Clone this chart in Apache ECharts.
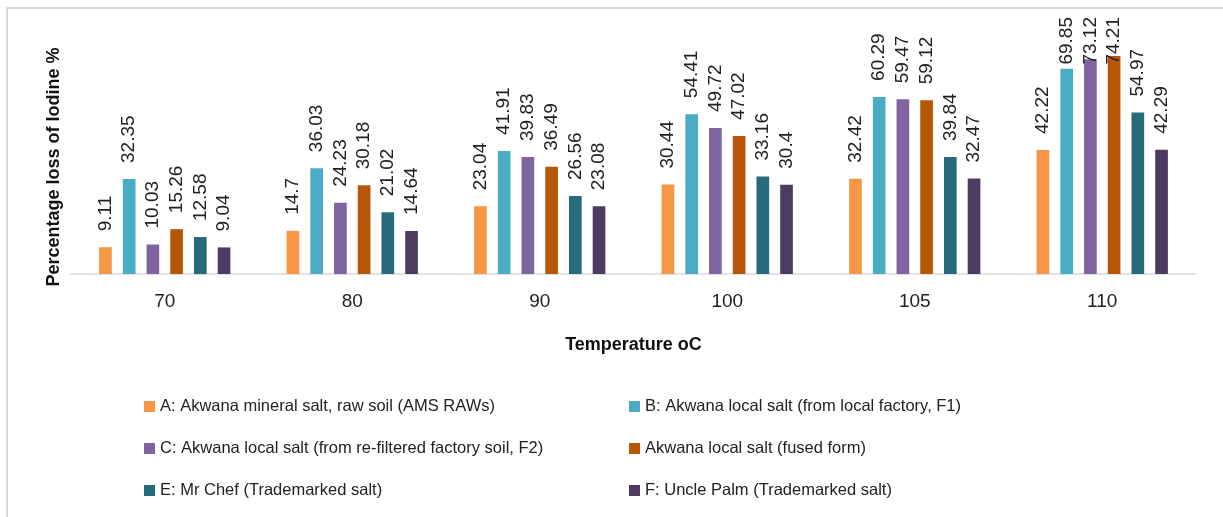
<!DOCTYPE html>
<html>
<head>
<meta charset="utf-8">
<script src="https://cdn.jsdelivr.net/npm/echarts@6/dist/echarts.min.js"></script>
<style>
  html, body { margin: 0; padding: 0; background: #fff; overflow: hidden; }
  #chart { width: 1223px; height: 517px; }
</style>
</head>
<body>
<div id="chart"></div>
<script>
// temperatures (x axis)
const temps = ['70', '80', '90', '100', '105', '110'];

// series names
const nameA = 'A: Akwana mineral salt, raw soil (AMS RAWs)';
const nameB = 'B: Akwana local salt (from local factory, F1)';
const nameC = 'C: Akwana local salt (from re-filtered factory soil, F2)';
const nameD = 'Akwana local salt (fused form)';
const nameE = 'E: Mr Chef (Trademarked salt)';
const nameF = 'F: Uncle Palm (Trademarked salt)';

// percentage loss of iodine
const valuesA = [9.11, 14.7, 23.04, 30.44, 32.42, 42.22];
const valuesB = [32.35, 36.03, 41.91, 54.41, 60.29, 69.85];
const valuesC = [10.03, 24.23, 39.83, 49.72, 59.47, 73.12];
const valuesD = [15.26, 30.18, 36.49, 47.02, 59.12, 74.21];
const valuesE = [12.58, 21.02, 26.56, 33.16, 39.84, 54.97];
const valuesF = [9.04, 14.64, 23.08, 30.4, 32.47, 42.29];

const colors = ['#F79646', '#4BACC6', '#8064A2', '#B65708', '#276A7C', '#4D3B62'];
const FONT = '"Liberation Sans", Arial, sans-serif';
const LABEL_TOP = 17; // labels that would run off the top are pushed down (like Excel)

const chart = echarts.init(document.getElementById('chart'));

function makeSeries(name, data) {
  return {
    name: name,
    type: 'bar',
    barGap: '87%',
    barCategoryGap: '30%',
    data: data,
    label: {
      show: true,
      position: 'top',
      distance: 16,
      rotate: 90,
      align: 'left',
      verticalAlign: 'middle',
      color: '#222',
      fontSize: 19,
      fontFamily: FONT
    },
    labelLayout: function (params) {
      const r = params.labelRect;
      if (r.y < LABEL_TOP) {
        return { x: r.x + r.width / 2, y: LABEL_TOP + r.height };
      }
    }
  };
}

const legendCommon = {
  orient: 'vertical',
  icon: 'rect',
  itemWidth: 11,
  itemHeight: 11,
  itemGap: 25,
  textStyle: { color: '#222', fontSize: 16.5, fontFamily: FONT }
};

const option = {
  animation: false,
  color: colors,
  grid: { left: 71, right: 27, top: 39, bottom: 243 },
  graphic: [
    {
      // outer frame, only left and top edges are inside the picture
      type: 'polyline',
      shape: { points: [[7, 600], [7, 8], [1300, 8]] },
      style: { fill: 'none', stroke: '#d9d9d9', lineWidth: 2 },
      silent: true
    },
    {
      type: 'text',
      x: 54,
      y: 167,
      rotation: Math.PI / 2,
      style: {
        text: 'Percentage loss of Iodine %',
        fill: '#111',
        font: 'bold 18px ' + FONT,
        align: 'center',
        verticalAlign: 'middle'
      }
    }
  ],
  legend: [
    Object.assign({ left: 139, top: 393, data: [nameA, nameC, nameE] }, legendCommon),
    Object.assign({ left: 624, top: 393, data: [nameB, nameD, nameF] }, legendCommon)
  ],
  xAxis: {
    type: 'category',
    data: temps,
    name: 'Temperature oC',
    nameLocation: 'middle',
    nameGap: 62,
    nameTextStyle: { color: '#111', fontSize: 18, fontWeight: 'bold', fontFamily: FONT },
    axisLine: { lineStyle: { color: '#d9d9d9', width: 1.5 } },
    axisTick: { show: false },
    axisLabel: { color: '#222', fontSize: 19, margin: 18, fontFamily: FONT }
  },
  yAxis: {
    type: 'value',
    min: 0,
    max: 80,
    show: false,
    splitLine: { show: false }
  },
  series: [
    makeSeries(nameA, valuesA),
    makeSeries(nameB, valuesB),
    makeSeries(nameC, valuesC),
    makeSeries(nameD, valuesD),
    makeSeries(nameE, valuesE),
    makeSeries(nameF, valuesF)
  ]
};

chart.setOption(option);
</script>
</body>
</html>
